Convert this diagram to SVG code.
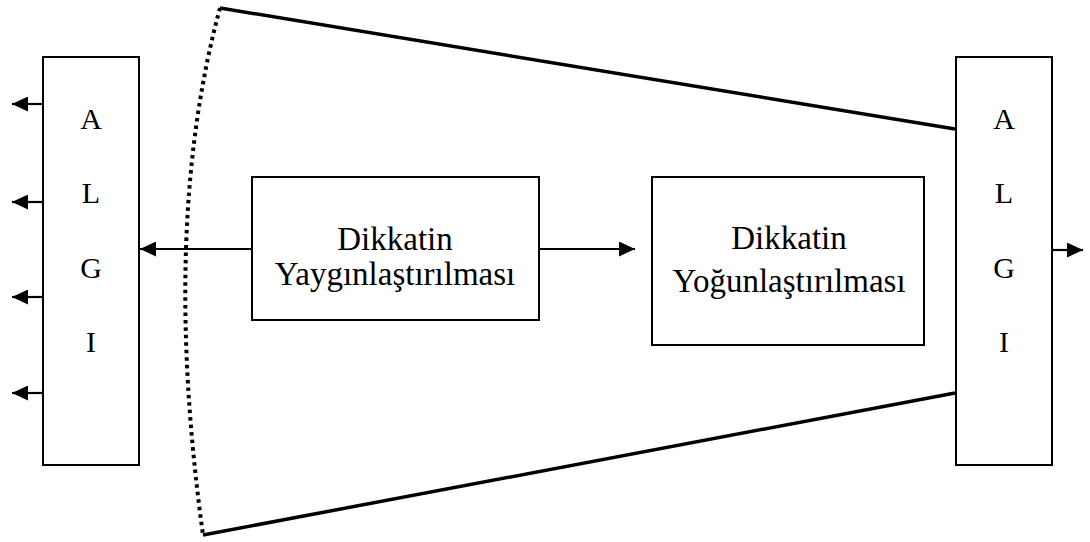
<svg xmlns="http://www.w3.org/2000/svg" width="1090" height="542" viewBox="0 0 1090 542">
<style>
.box{fill:#fff;stroke:#000;stroke-width:2}
text{font-family:'Liberation Serif','DejaVu Serif',serif;fill:#000;text-anchor:middle}
.t{font-size:33px}
.l{font-size:30px}
.arr{stroke:#000;stroke-width:2.2;fill:none;marker-end:url(#ah)}
.thick{stroke:#000;stroke-width:3.5;fill:none}
</style>
<defs>
<marker id="ah" markerUnits="userSpaceOnUse" markerWidth="17" markerHeight="15" refX="16" refY="7.5" orient="auto">
<path d="M0,0 L16,7.5 L0,15 Z" fill="#000"/>
</marker>
</defs>
<rect width="1090" height="542" fill="#fff"/>
<g id="funnel">
<path class="thick" d="M220,8 L955,129"/>
<path class="thick" d="M203,535 L955,393"/>
<path d="M220,8 Q160.5,226.5 203,535" fill="none" stroke="#000" stroke-width="4" stroke-dasharray="3.5 4"/>
</g>
<g id="algi-left">
<rect class="box" x="43" y="57" width="96" height="408"/>
<text class="l" x="91" y="129">A</text>
<text class="l" x="91" y="203">L</text>
<text class="l" x="91" y="278">G</text>
<text class="l" x="91" y="352">I</text>
</g>
<g id="algi-right">
<rect class="box" x="956" y="57" width="96" height="408"/>
<text class="l" x="1004" y="129">A</text>
<text class="l" x="1004" y="203">L</text>
<text class="l" x="1004" y="278">G</text>
<text class="l" x="1004" y="352">I</text>
</g>
<g id="yayginlastirma">
<rect class="box" x="252" y="177" width="287" height="143"/>
<text class="t" x="395" y="250">Dikkatin</text>
<text class="t" x="395" y="285">Yaygınlaştırılması</text>
</g>
<g id="yogunlastirma">
<rect class="box" x="652" y="177" width="272" height="168"/>
<text class="t" x="789" y="249">Dikkatin</text>
<text class="t" x="789" y="292">Yoğunlaştırılması</text>
</g>
<g id="connectors">
<line class="arr" x1="43" y1="104" x2="12" y2="104"/>
<line class="arr" x1="43" y1="202" x2="12" y2="202"/>
<line class="arr" x1="43" y1="297" x2="12" y2="297"/>
<line class="arr" x1="43" y1="393" x2="12" y2="393"/>
<line class="arr" x1="252" y1="249" x2="140" y2="249"/>
<line class="arr" x1="539" y1="249" x2="635" y2="249"/>
<line class="arr" x1="1052" y1="250" x2="1083" y2="250"/>
</g>
</svg>
